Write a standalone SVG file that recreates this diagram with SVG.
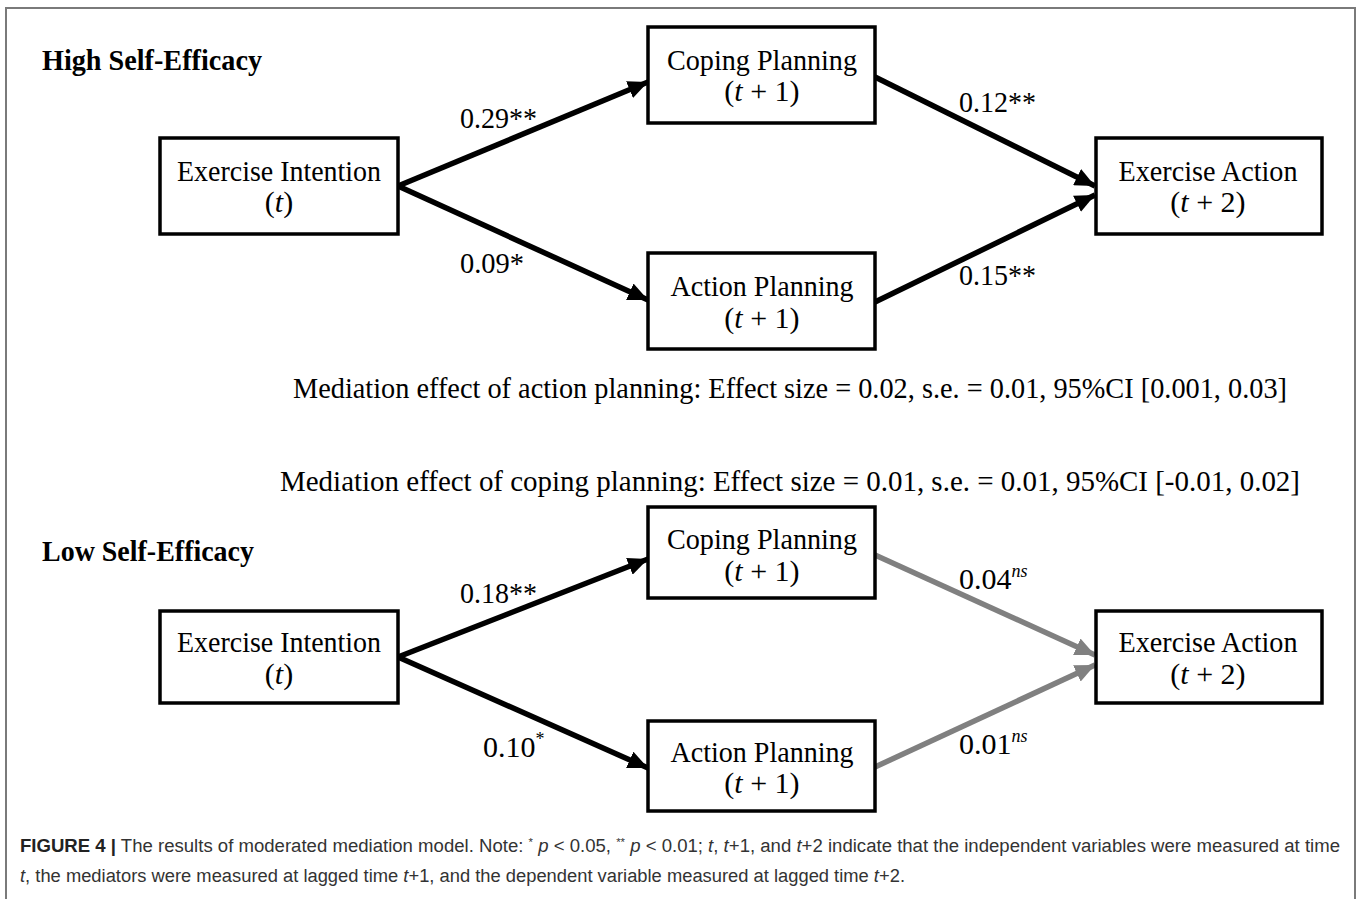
<svg xmlns="http://www.w3.org/2000/svg" width="1358" height="899" viewBox="0 0 1358 899">
<style>
.bg{fill:#ffffff}
.frame{fill:none;stroke:#7a7a7a;stroke-width:2}
.box{fill:#ffffff;stroke:#000;stroke-width:3.5}
.t{font-family:"Liberation Serif","Times New Roman",serif;font-size:30px;fill:#000}
.c{text-anchor:middle}
.h{font-weight:bold}
.i{font-style:italic}
.blk{stroke:#000;stroke-width:5.5;fill:none}
.gry{stroke:#808080;stroke-width:5.5;fill:none}
.cap{font-family:"Liberation Sans",Arial,sans-serif;font-size:18px;fill:#333}
</style>
<defs>
<marker id="ab" viewBox="0 0 20 18" markerWidth="20" markerHeight="18" refX="20" refY="9" orient="auto" markerUnits="userSpaceOnUse"><path d="M0,0 L20,9 L0,18 z" fill="#000"/></marker>
<marker id="ag" viewBox="0 0 20 18" markerWidth="20" markerHeight="18" refX="20" refY="9" orient="auto" markerUnits="userSpaceOnUse"><path d="M0,0 L20,9 L0,18 z" fill="#808080"/></marker>
</defs>
<rect class="bg" x="0" y="0" width="1358" height="899"/>
<rect class="frame" x="6" y="8" width="1349" height="910"/>

<text class="t h" x="42" y="70" textLength="220" lengthAdjust="spacingAndGlyphs">High Self-Efficacy</text>
<text class="t h" x="42" y="561" textLength="212" lengthAdjust="spacingAndGlyphs">Low Self-Efficacy</text>

<g id="connectors">
<line class="blk" x1="398" y1="186" x2="648" y2="82" marker-end="url(#ab)"/>
<line class="blk" x1="398" y1="186" x2="648" y2="300" marker-end="url(#ab)"/>
<line class="blk" x1="875" y1="77" x2="1095" y2="186" marker-end="url(#ab)"/>
<line class="blk" x1="875" y1="302" x2="1095" y2="195" marker-end="url(#ab)"/>
<line class="blk" x1="398" y1="657" x2="648" y2="559" marker-end="url(#ab)"/>
<line class="blk" x1="398" y1="657" x2="648" y2="768" marker-end="url(#ab)"/>
<line class="gry" x1="875" y1="555" x2="1095" y2="655" marker-end="url(#ag)"/>
<line class="gry" x1="875" y1="767" x2="1095" y2="665" marker-end="url(#ag)"/>
<text class="t" x="460" y="128" textLength="77" lengthAdjust="spacingAndGlyphs">0.29**</text>
<text class="t" x="460" y="273" textLength="64" lengthAdjust="spacingAndGlyphs">0.09*</text>
<text class="t" x="959" y="112" textLength="77" lengthAdjust="spacingAndGlyphs">0.12**</text>
<text class="t" x="959" y="285" textLength="77" lengthAdjust="spacingAndGlyphs">0.15**</text>
<text class="t" x="460" y="603" textLength="77" lengthAdjust="spacingAndGlyphs">0.18**</text>
<text class="t" x="483" y="757">0.10<tspan font-size="18" dy="-12">*</tspan></text>
<text class="t" x="959" y="589">0.04<tspan class="i" font-size="18" dy="-12">ns</tspan></text>
<text class="t" x="959" y="754">0.01<tspan class="i" font-size="18" dy="-12">ns</tspan></text>
</g>

<g id="ei-high">
<rect class="box" x="160" y="138" width="238" height="96"/>
<text class="t c" x="279" y="181" textLength="204" lengthAdjust="spacingAndGlyphs">Exercise Intention</text>
<text class="t c" x="279" y="212">(<tspan class="i">t</tspan>)</text>
</g>
<g id="cp-high">
<rect class="box" x="648" y="27" width="227" height="96"/>
<text class="t c" x="762" y="70" textLength="190" lengthAdjust="spacingAndGlyphs">Coping Planning</text>
<text class="t c" x="762" y="101">(<tspan class="i">t</tspan> + 1)</text>
</g>
<g id="ap-high">
<rect class="box" x="648" y="253" width="227" height="96"/>
<text class="t c" x="762" y="296" textLength="183" lengthAdjust="spacingAndGlyphs">Action Planning</text>
<text class="t c" x="762" y="328">(<tspan class="i">t</tspan> + 1)</text>
</g>
<g id="ea-high">
<rect class="box" x="1096" y="138" width="226" height="96"/>
<text class="t c" x="1208" y="181" textLength="179" lengthAdjust="spacingAndGlyphs">Exercise Action</text>
<text class="t c" x="1208" y="212">(<tspan class="i">t</tspan> + 2)</text>
</g>

<text class="t c" x="790" y="398" textLength="994" lengthAdjust="spacingAndGlyphs">Mediation effect of action planning: Effect size = 0.02, s.e. = 0.01, 95%CI [0.001, 0.03]</text>
<text class="t c" x="790" y="491" textLength="1020" lengthAdjust="spacingAndGlyphs">Mediation effect of coping planning: Effect size = 0.01, s.e. = 0.01, 95%CI [-0.01, 0.02]</text>

<g id="ei-low">
<rect class="box" x="160" y="611" width="238" height="92"/>
<text class="t c" x="279" y="652" textLength="204" lengthAdjust="spacingAndGlyphs">Exercise Intention</text>
<text class="t c" x="279" y="684">(<tspan class="i">t</tspan>)</text>
</g>
<g id="cp-low">
<rect class="box" x="648" y="507" width="227" height="91"/>
<text class="t c" x="762" y="549" textLength="190" lengthAdjust="spacingAndGlyphs">Coping Planning</text>
<text class="t c" x="762" y="581">(<tspan class="i">t</tspan> + 1)</text>
</g>
<g id="ap-low">
<rect class="box" x="648" y="721" width="227" height="90"/>
<text class="t c" x="762" y="762" textLength="183" lengthAdjust="spacingAndGlyphs">Action Planning</text>
<text class="t c" x="762" y="793">(<tspan class="i">t</tspan> + 1)</text>
</g>
<g id="ea-low">
<rect class="box" x="1096" y="611" width="226" height="92"/>
<text class="t c" x="1208" y="652" textLength="179" lengthAdjust="spacingAndGlyphs">Exercise Action</text>
<text class="t c" x="1208" y="684">(<tspan class="i">t</tspan> + 2)</text>
</g>

<g id="caption">
<text class="cap" x="20" y="852" textLength="1320" lengthAdjust="spacingAndGlyphs"><tspan font-weight="bold" fill="#222">FIGURE 4 |</tspan> The results of moderated mediation model. Note: <tspan font-size="11" dy="-6">*</tspan><tspan dy="6"> </tspan><tspan font-style="italic">p</tspan> &lt; 0.05, <tspan font-size="11" dy="-6">**</tspan><tspan dy="6"> </tspan><tspan font-style="italic">p</tspan> &lt; 0.01; <tspan font-style="italic">t</tspan>, <tspan font-style="italic">t</tspan>+1, and <tspan font-style="italic">t</tspan>+2 indicate that the independent variables were measured at time</text>
<text class="cap" x="20" y="882" textLength="885" lengthAdjust="spacingAndGlyphs"><tspan font-style="italic">t</tspan>, the mediators were measured at lagged time <tspan font-style="italic">t</tspan>+1, and the dependent variable measured at lagged time <tspan font-style="italic">t</tspan>+2.</text>
</g>
</svg>
